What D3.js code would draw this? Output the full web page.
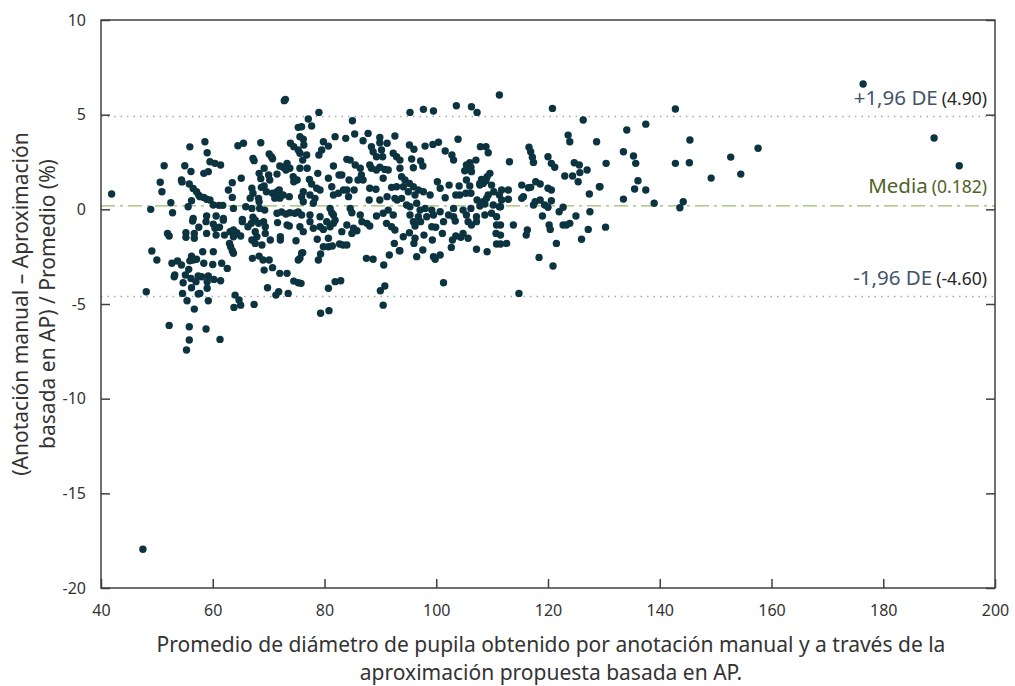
<!DOCTYPE html>
<html>
<head>
<meta charset="utf-8">
<script src="https://cdn.jsdelivr.net/npm/d3@7"></script>
<style>
  body { margin: 0; background: #fff; }
  text { font-family: "Noto Sans", "Open Sans", sans-serif; }
</style>
</head>
<body>
<div id="chart"></div>
<script>
// promedio (x) y diferencia porcentual (y)
const puntos = [
  // 40-60
  [41.9,0.81],[55.9,3.3],[51.3,2.3],[55.0,2.3],[56.1,2.0],[50.6,1.43],[50.9,0.93],[54.4,1.55],[54.5,1.45],[55.8,1.34],
  [56.5,1.1],[57.1,0.93],[57.5,0.75],[52.5,0.35],[56.2,0.45],[55.6,0.14],[48.9,0.0],[52.8,-0.18],[56.5,-0.48],
  [56.4,-0.62],[51.9,-1.27],[52.2,-1.41],[55.2,-1.24],[55.2,-1.48],[56.7,-1.27],[56.7,-1.53],[57.5,-0.95],[49.1,-2.2],
  [50.0,-2.68],[52.7,-2.85],[53.7,-2.73],[54.4,-2.94],[56.2,-2.47],[57.1,-2.64],[56.5,-2.68],[55.9,-2.72],[55.7,-3.17],
  [53.1,-3.56],[53.2,-3.47],[55.1,-3.47],[56.1,-3.65],[57.4,-3.52],[54.7,-3.88],[57.0,-3.82],[56.2,-4.14],[48.1,-4.35],
  [54.6,-4.44],[57.4,-4.47],[55.4,-4.83],[56.7,-5.27],[52.2,-6.13],[55.8,-6.2],[55.8,-6.9],[55.3,-7.43],[47.5,-17.95],
  // 58-75 arriba
  [72.8,5.74],[73.0,5.81],[58.6,3.57],[59.0,2.99],[59.5,2.51],[60.4,2.43],[61.4,2.34],[58.4,1.9],[59.2,1.99],[64.5,3.36],
  [65.5,3.49],[68.6,3.52],[67.2,2.69],[67.4,2.57],[70.1,2.92],[70.5,2.78],[70.7,2.67],[69.2,2.17],[72.0,2.29],[72.6,2.22],
  [73.3,2.43],[73.8,2.17],[73.1,2.08],[71.5,1.86],[68.3,1.9],[68.6,1.62],[70.0,1.81],[70.2,1.55],[74.4,1.72],[74.5,1.46],
  [75.1,1.55],[73.9,3.49],[74.5,3.31],[75.3,4.33],[75.3,3.13],[63.5,1.41],[65.1,1.64],[62.8,1.02],[63.5,0.63],[67.0,1.11],
  [67.2,0.85],[66.7,0.59],[68.7,1.16],[69.2,1.23],[69.6,0.93],[70.7,0.85],[71.5,0.93],[71.9,1.02],[71.1,0.59],[72.0,0.59],
  [72.6,0.76],[73.7,0.67],[68.2,0.58],[68.3,0.4],[57.7,0.67],[58.4,0.63],[58.9,0.53],[59.5,0.49],[60.1,0.23],[61.1,0.21],
  [61.8,0.21],[63.7,0.05],[65.9,0.14],[67.0,0.05],[68.4,0.05],[69.3,-0.04],[71.5,-0.21],[72.3,-0.14],[73.1,-0.25],[73.8,-0.18],
  [74.7,-0.21],[75.3,-0.14],[58.9,-0.35],[60.6,-0.35],[61.9,-0.48],[65.3,-0.53],[67.2,-0.42],
  // 58-75 abajo
  [58.8,-0.65],[60.1,-0.78],[60.4,-1.0],[61.2,-0.95],[58.9,-1.27],[60.6,-1.36],[61.9,-0.57],[62.1,-1.36],[63.1,-1.18],[63.7,-1.09],
  [64.3,-1.24],[65.0,-1.41],[63.7,-1.45],[63.0,-1.8],[63.2,-1.98],[63.5,-2.19],[63.7,-2.32],[65.3,-0.65],[66.3,-0.92],[66.9,-0.74],
  [67.6,-0.57],[68.2,-0.74],[69.1,-0.65],[69.4,-0.92],[67.6,-1.18],[67.9,-1.45],[67.0,-1.62],[67.6,-1.8],[68.8,-1.88],[69.4,-1.27],
  [70.3,-1.62],[71.6,-0.7],[72.1,-1.45],[72.1,-1.62],[73.3,-0.83],[73.7,-0.88],[74.9,-1.66],[58.2,-2.24],[60.1,-2.24],[58.4,-2.85],
  [60.0,-2.91],[61.6,-2.85],[62.6,-3.12],[67.1,-2.59],[68.3,-2.47],[69.0,-2.68],[70.1,-2.68],[69.2,-3.21],[70.7,-3.08],[72.0,-3.38],
  [73.3,-3.38],[75.3,-2.68],[74.5,-3.79],[75.3,-3.88],[58.0,-3.56],[59.2,-3.52],[60.2,-3.7],[61.4,-3.77],[59.0,-3.82],[57.7,-4.44],
  [59.0,-4.17],[59.2,-4.83],[64.0,-4.53],[64.7,-4.79],[65.0,-5.06],[63.8,-5.18],[67.4,-5.02],[69.8,-4.14],[71.3,-4.53],[71.8,-4.35],
  [73.5,-4.44],[58.8,-6.32],[61.3,-6.87],
  // 75-93 arriba
  [79.0,5.12],[77.1,4.77],[77.7,4.4],[85.0,4.68],[75.9,4.36],[75.6,3.84],[76.2,3.7],[76.3,3.4],[75.6,2.96],[76.8,2.87],
  [76.1,2.6],[75.6,2.17],[76.9,2.17],[79.8,3.57],[79.5,3.13],[79.0,2.87],[80.7,3.34],[78.8,1.9],[81.6,2.29],[81.9,3.84],
  [83.8,3.75],[85.4,3.98],[86.9,3.62],[87.8,4.01],[89.9,3.8],[89.9,3.52],[91.2,3.49],[92.6,3.87],[88.4,3.31],[88.7,3.04],
  [89.3,2.78],[90.2,3.13],[90.4,2.78],[92.3,2.96],[92.9,2.78],[84.0,2.64],[84.6,2.6],[85.5,2.34],[86.4,2.17],[86.6,1.81],
  [86.9,1.55],[86.0,1.55],[88.1,2.34],[88.4,2.17],[89.3,2.08],[89.9,2.22],[90.8,2.11],[91.4,2.08],[90.5,1.64],[77.3,1.58],
  [77.7,1.34],[78.6,1.11],[79.2,1.02],[80.7,1.64],[81.3,1.19],[82.6,1.81],[83.1,1.81],[84.4,1.55],[85.3,1.02],[83.4,1.02],
  [82.5,0.85],[81.6,0.76],[84.3,0.67],[84.0,1.02],[76.2,0.93],[75.9,0.67],[77.4,0.76],[78.3,0.58],[78.0,0.32],[76.2,0.4],
  [88.1,1.11],[89.2,1.06],[89.9,0.49],[91.2,0.67],[92.0,1.16],[92.9,1.19],[92.6,0.58],[93.0,0.49],[88.0,0.49],[81.0,0.05],
  [81.3,-0.18],[81.6,-0.3],[84.6,0.05],[84.9,-0.18],[86.4,-0.3],[89.3,-0.35],[91.4,-0.04],[90.5,-0.21],[92.3,-0.3],[77.4,-0.3],
  [79.2,-0.39],[75.9,-0.3],
  // 75-93 abajo
  [75.6,-0.92],[76.2,-1.18],[77.4,-0.65],[78.0,-1.0],[79.2,-0.92],[79.8,-1.06],[80.4,-0.65],[81.0,-0.92],[81.6,-0.74],[81.9,-0.57],
  [83.1,-1.18],[84.0,-0.83],[84.9,-1.27],[85.2,-1.0],[85.8,-1.13],[86.7,-0.65],[87.6,-0.74],[88.1,-0.88],[91.1,-0.74],[92.0,-0.92],
  [92.6,-1.09],[78.7,-1.58],[80.7,-1.53],[79.8,-1.98],[80.7,-1.98],[81.4,-1.94],[82.7,-1.83],[83.3,-1.88],[84.0,-1.88],[75.9,-2.32],
  [76.1,-2.29],[75.6,-2.59],[79.3,-2.36],[78.9,-2.68],[87.5,-2.59],[88.7,-2.64],[90.6,-2.94],[91.6,-2.41],[92.5,-1.8],[93.4,-2.19],
  [75.8,-3.91],[81.9,-3.82],[82.9,-3.77],[80.7,-4.17],[90.0,-4.3],[90.8,-4.05],[90.5,-5.06],[79.3,-5.49],[80.8,-5.35],
  // 93-112 arriba
  [95.3,5.12],[97.7,5.28],[99.5,5.19],[103.6,5.47],[106.3,5.42],[107.3,5.12],[111.3,6.04],[103.9,3.7],[95.2,3.4],[96.0,3.17],
  [98.0,3.34],[99.4,3.43],[100.4,3.54],[101.6,3.08],[102.8,2.87],[103.1,2.6],[107.9,3.31],[108.9,3.31],[109.3,2.99],[107.1,2.6],
  [106.0,2.46],[105.4,2.34],[95.6,2.66],[97.2,2.55],[97.6,2.29],[95.9,2.2],[105.1,2.04],[106.3,1.99],[106.2,2.22],[109.6,1.9],
  [109.1,1.72],[108.9,1.51],[108.4,1.37],[107.8,1.28],[93.5,2.6],[93.5,2.17],[93.8,1.72],[94.4,1.55],[95.2,1.37],[95.9,1.19],
  [96.8,1.02],[97.7,0.93],[98.9,0.76],[94.1,1.19],[95.0,0.93],[96.2,0.76],[100.2,1.46],[100.7,1.11],[101.6,0.61],[102.3,1.28],
  [104.1,1.23],[106.0,1.23],[105.4,1.55],[106.2,0.85],[107.3,0.49],[105.3,0.85],[104.2,0.76],[103.5,0.76],[107.8,1.37],[108.1,1.58],
  [109.9,1.28],[110.3,0.93],[111.3,0.76],[109.3,0.76],[108.4,0.4],[109.0,0.58],[93.8,0.58],[94.7,0.23],[95.3,0.14],[96.5,0.32],
  [97.1,-0.04],[98.0,0.05],[99.2,-0.04],[99.5,-0.3],[100.7,-0.13],[102.2,-0.3],[103.1,0.05],[104.8,-0.04],[106.2,0.05],[107.8,0.17],
  [108.7,0.28],[110.2,0.23],[111.3,0.14],[95.3,-0.3],[96.8,-0.39],[98.3,-0.39],[103.1,-0.39],[105.4,-0.3],[107.2,-0.39],[108.7,-0.3],
  [109.9,-0.21],[110.8,-0.39],
  // 93-112 abajo
  [95.9,-0.65],[96.2,-0.88],[97.2,-0.65],[99.2,-0.92],[99.9,-0.95],[101.3,-0.65],[103.4,-0.62],[105.7,-0.65],[106.3,-0.83],[107.2,-0.65],
  [110.8,-0.83],[94.1,-1.45],[95.2,-1.24],[96.2,-1.53],[96.0,-1.8],[97.8,-1.36],[99.3,-1.62],[101.1,-1.27],[102.7,-2.01],[102.9,-1.62],
  [103.5,-1.41],[104.4,-1.48],[104.8,-1.27],[105.7,-1.53],[107.2,-2.11],[109.1,-2.24],[110.7,-1.27],[110.8,-1.83],[93.5,-2.19],[97.6,-2.15],
  [96.5,-2.5],[99.5,-2.5],[99.8,-2.64],[100.7,-2.41],[101.3,-3.88],
  // 112-130
  [120.8,5.33],[126.3,4.72],[123.6,3.92],[123.9,3.57],[128.7,3.57],[116.6,3.28],[116.9,3.04],[117.2,2.75],[117.4,2.48],[113.1,2.51],
  [120.0,2.78],[120.6,2.43],[121.2,2.22],[124.7,2.46],[125.6,2.34],[127.0,2.08],[125.7,1.94],[123.0,1.76],[124.4,1.76],[125.4,1.46],
  [115.3,1.28],[116.5,1.14],[116.9,1.16],[117.8,1.46],[118.6,1.34],[120.0,1.11],[120.6,1.02],[112.9,1.02],[111.7,1.02],[111.7,0.49],
  [112.9,0.53],[115.3,0.58],[115.6,0.67],[117.7,0.4],[118.6,0.49],[120.6,0.45],[119.4,0.23],[120.0,0.11],[127.4,0.81],[129.2,1.19],
  [111.5,0.14],[117.4,0.23],[119.0,-0.35],[122.0,-0.13],[122.7,0.11],[125.0,-0.35],[127.5,-0.13],
  [111.5,-0.83],[113.8,-0.83],[116.3,-1.09],[116.1,-1.36],[120.2,-0.83],[120.4,-1.06],[122.7,-0.83],[123.3,-0.83],[123.9,-0.74],[127.2,-1.06],
  [111.5,-1.36],[111.5,-1.83],[112.6,-1.8],[121.5,-1.8],[126.0,-1.58],[118.4,-2.54],[120.9,-2.99],[114.8,-4.44],
  // 130+
  [142.8,5.3],[137.5,4.5],[134.1,4.19],[145.4,3.66],[133.5,3.04],[135.3,2.82],[135.7,2.43],[130.4,2.43],[142.8,2.43],[145.3,2.46],
  [129.3,1.19],[136.1,1.51],[135.5,1.07],[137.5,1.02],[133.5,0.54],[139.0,0.32],[144.2,0.4],[143.6,0.08],[130.3,-0.94],
  [149.2,1.65],[152.7,2.76],[154.5,1.86],[157.6,3.23],[176.4,6.62],[189.1,3.77],[193.6,2.3]
];

const xTicks = [40, 60, 80, 100, 120, 140, 160, 180, 200];
const yTicks = [10, 5, 0, -5, -10, -15, -20];
const media = 0.182;
const limSup = 4.90;
const limInf = -4.60;

const W = 1015, H = 686;
const M = { top: 20, right: 20, bottom: 98, left: 101 };

const svg = d3.select("#chart").append("svg")
  .attr("width", W).attr("height", H);

const x = d3.scaleLinear().domain([40, 200]).range([M.left, W - M.right]);
const y = d3.scaleLinear().domain([-20, 10]).range([H - M.bottom, M.top]);

// lineas de referencia
svg.append("line")
  .attr("x1", x(40)).attr("x2", x(200))
  .attr("y1", y(limSup)).attr("y2", y(limSup))
  .attr("stroke", "#a6a6a6").attr("stroke-width", 1.5).attr("stroke-dasharray", "1.5,5");
svg.append("line")
  .attr("x1", x(40)).attr("x2", x(200))
  .attr("y1", y(limInf)).attr("y2", y(limInf))
  .attr("stroke", "#a6a6a6").attr("stroke-width", 1.5).attr("stroke-dasharray", "1.5,5");
svg.append("line")
  .attr("x1", x(40)).attr("x2", x(200))
  .attr("y1", y(media)).attr("y2", y(media))
  .attr("stroke", "#9bbb6b").attr("stroke-width", 1.3).attr("stroke-dasharray", "14,5,3,5");

// puntos
svg.append("g").selectAll("circle")
  .data(puntos)
  .enter().append("circle")
  .attr("cx", d => x(d[0]))
  .attr("cy", d => y(d[1]))
  .attr("r", 3.7)
  .attr("fill", "#0c3340");

// marco y ejes
const axisCol = "#404040";
svg.append("rect")
  .attr("x", x(40)).attr("y", y(10))
  .attr("width", x(200) - x(40)).attr("height", y(-20) - y(10))
  .attr("fill", "none").attr("stroke", axisCol).attr("stroke-width", 1.5);

const yLeft = svg.append("g")
  .attr("transform", `translate(${x(40)},0)`)
  .call(d3.axisLeft(y).tickValues(yTicks).tickFormat(d => String(d))
    .tickSizeInner(-9).tickSizeOuter(0).tickPadding(15));
const yRight = svg.append("g")
  .attr("transform", `translate(${x(200)},0)`)
  .call(d3.axisRight(y).tickValues(yTicks).tickSizeInner(-9).tickSizeOuter(0).tickFormat(""));
const xBot = svg.append("g")
  .attr("transform", `translate(0,${y(-20)})`)
  .call(d3.axisBottom(x).tickValues(xTicks).tickFormat(d => String(d))
    .tickSizeInner(-9).tickSizeOuter(0).tickPadding(17));

[yLeft, yRight, xBot].forEach(g => {
  g.select(".domain").remove();
  g.selectAll(".tick line").attr("stroke", axisCol).attr("stroke-width", 1.5);
  g.selectAll(".tick text").attr("fill", "#333").style("font-size", "16px")
    .style("font-family", "'Noto Sans', sans-serif");
});

// etiquetas de las lineas
function etiqueta(yy, a, b, colA, colB) {
  const t = svg.append("text")
    .attr("x", 987).attr("y", yy)
    .attr("text-anchor", "end");
  t.append("tspan").text(a).attr("fill", colA).style("font-size", "20.5px");
  t.append("tspan").text(b).attr("fill", colB).attr("dx", 4).style("font-size", "17.5px");
}
etiqueta(105, "+1,96 DE", "(4.90)", "#44546a", "#262626");
etiqueta(193, "Media", "(0.182)", "#4f6228", "#4f6228");
etiqueta(285, "-1,96 DE", "(-4.60)", "#44546a", "#262626");

// titulos de ejes
svg.append("text")
  .attr("x", 551).attr("y", 652)
  .attr("text-anchor", "middle").attr("fill", "#333").style("font-size", "21px")
  .text("Promedio de diámetro de pupila obtenido por anotación manual y a través de la");
svg.append("text")
  .attr("x", 551).attr("y", 680)
  .attr("text-anchor", "middle").attr("fill", "#333").style("font-size", "21px")
  .text("aproximación propuesta basada en AP.");

const yt = svg.append("text")
  .attr("transform", "translate(0,304) rotate(-90)")
  .attr("text-anchor", "middle").attr("fill", "#333").style("font-size", "21px");
yt.append("tspan").attr("x", 0).attr("y", 28).text("(Anotación manual – Aproximación");
yt.append("tspan").attr("x", 0).attr("y", 55).text("basada en AP) / Promedio (%)");
</script>
</body>
</html>
